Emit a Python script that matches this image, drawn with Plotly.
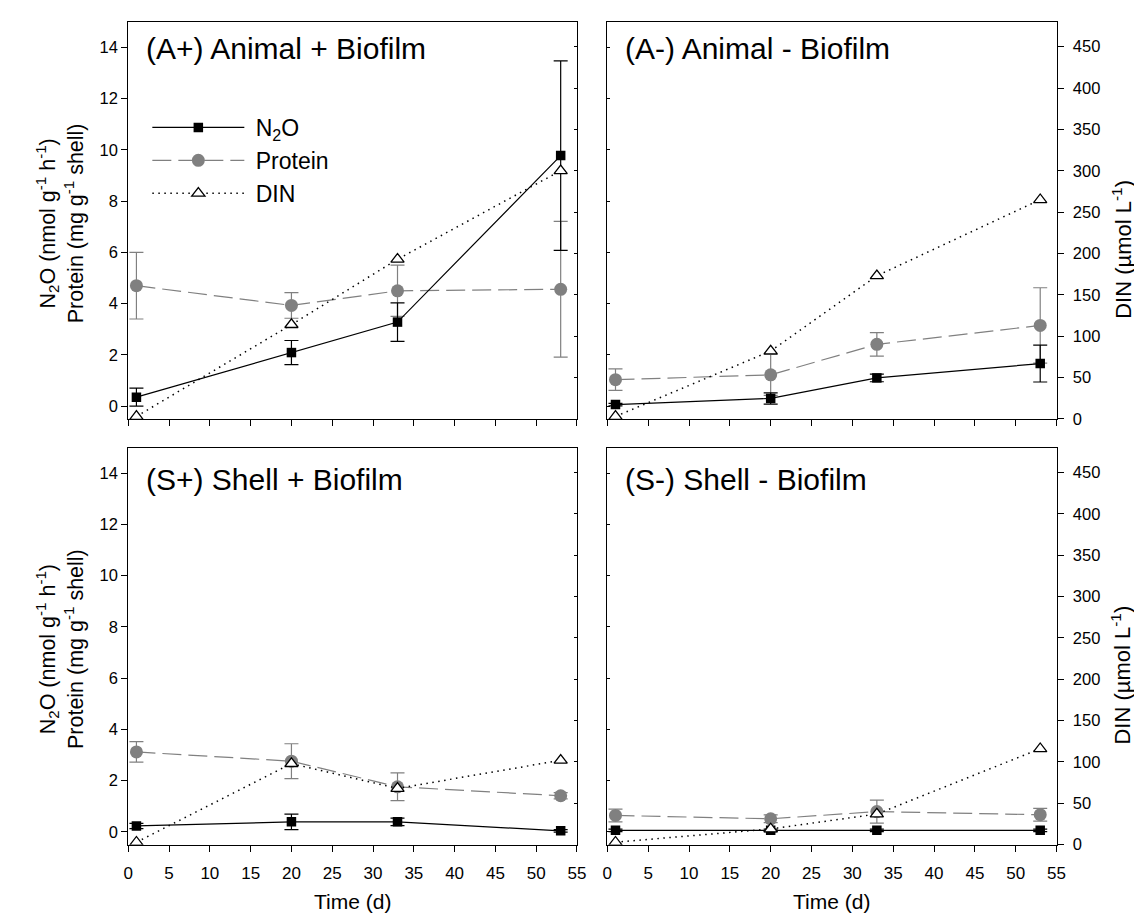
import plotly.graph_objects as go

# ---------------- data ----------------
days = [1, 20, 33, 53]

panel_titles = ["(A+) Animal + Biofilm", "(A-) Animal - Biofilm",
                "(S+) Shell + Biofilm", "(S-) Shell - Biofilm"]

n2o_ap = [0.35, 2.09, 3.28, 9.78]
n2o_ap_err = [0.35, 0.47, 0.75, 3.7]
prot_ap = [4.70, 3.93, 4.50, 4.56]
prot_ap_err = [1.3, 0.5, 1.0, 2.65]
din_ap = [3, 114, 193, 300]

n2o_am = [0.06, 0.30, 1.10, 1.66]
n2o_am_err = [0.05, 0.22, 0.15, 0.72]
prot_am = [1.03, 1.22, 2.41, 3.15]
prot_am_err = [0.42, 0.8, 0.46, 1.47]
din_am = [3, 82, 173, 265]

n2o_sp = [0.23, 0.39, 0.39, 0.04]
n2o_sp_err = [0.1, 0.3, 0.15, 0.05]
prot_sp = [3.12, 2.76, 1.76, 1.41]
prot_sp_err = [0.4, 0.68, 0.54, 0.12]
din_sp = [3, 98, 68, 102]

n2o_sm = [0.06, 0.06, 0.06, 0.06]
n2o_sm_err = [0.05, 0.05, 0.05, 0.05]
prot_sm = [0.64, 0.51, 0.79, 0.67]
prot_sm_err = [0.25, 0.15, 0.45, 0.25]
din_sm = [3, 19, 37, 116]

x_ticks = list(range(0, 56, 5))
left_ticks = list(range(0, 15, 2))
din_ticks = list(range(0, 451, 50))

# ---------------- layout geometry ----------------
W, H = 1142, 913
FONT = "Arial, Liberation Sans, sans-serif"
GRAY = "rgb(128,128,128)"

xL = [116.7 / W, 571.0 / W]
xR = [601.7 / W, 1056.5 / W]
yT = [1 - 415.0 / H, 1 - 14.0 / H]
yB = [1 - 845.0 / H, 1 - 444.0 / H]

panels = [
    dict(n2o=n2o_ap, n2oe=n2o_ap_err, prot=prot_ap, prote=prot_ap_err, din=din_ap, xd=xL, yd=yT, left=True, bottom=False, top_px=14),
    dict(n2o=n2o_am, n2oe=n2o_am_err, prot=prot_am, prote=prot_am_err, din=din_am, xd=xR, yd=yT, left=False, bottom=False, top_px=14),
    dict(n2o=n2o_sp, n2oe=n2o_sp_err, prot=prot_sp, prote=prot_sp_err, din=din_sp, xd=xL, yd=yB, left=True, bottom=True, top_px=444),
    dict(n2o=n2o_sm, n2oe=n2o_sm_err, prot=prot_sm, prote=prot_sm_err, din=din_sm, xd=xR, yd=yB, left=False, bottom=True, top_px=444),
]

fig = go.Figure()
layout = {}
annotations = []

for i, p in enumerate(panels):
    k = i + 1
    xa = "x" if k == 1 else f"x{k}"
    ya_p = 2 * k - 1
    ya_s = 2 * k
    ya = "y" if ya_p == 1 else f"y{ya_p}"
    ya2 = f"y{ya_s}"
    first = (k == 1)

    fig.add_trace(go.Scatter(
        x=days, y=p["prot"], xaxis=xa, yaxis=ya, name="\u00a0Protein",
        mode="lines+markers", showlegend=first, legendrank=2,
        line=dict(color=GRAY, width=1.2, dash="19px,7px"),
        marker=dict(symbol="circle", size=13, color=GRAY),
        error_y=dict(type="data", array=p["prote"], color=GRAY, thickness=1.2, width=7),
    ))
    fig.add_trace(go.Scatter(
        x=days, y=p["n2o"], xaxis=xa, yaxis=ya, name="\u00a0N<sub>2</sub>O",
        mode="lines+markers", showlegend=first, legendrank=1,
        line=dict(color="black", width=1.2),
        marker=dict(symbol="square", size=9.5, color="black"),
        error_y=dict(type="data", array=p["n2oe"], color="black", thickness=1.2, width=7),
    ))
    fig.add_trace(go.Scatter(
        x=days, y=p["din"], xaxis=xa, yaxis=ya2, name="\u00a0DIN",
        mode="lines+markers", showlegend=first, legendrank=3,
        line=dict(color="black", width=1.5, dash="1.5px,4.5px"),
        marker=dict(symbol="triangle-up", size=11.5, color="white",
                    line=dict(color="black", width=1.3)),
    ))

    axkey = "xaxis" if k == 1 else f"xaxis{k}"
    layout[axkey] = dict(
        domain=p["xd"], anchor=ya, range=[0, 55], tickvals=x_ticks,
        ticks="outside", ticklen=6, tickwidth=1, tickcolor="black",
        showticklabels=p["bottom"], showline=True, linecolor="black",
        linewidth=1, mirror=True, showgrid=False, zeroline=False,
        ticklabelstandoff=7,
        tickfont=dict(family=FONT, size=17, color="black"),
    )
    ykey = "yaxis" if ya_p == 1 else f"yaxis{ya_p}"
    layout[ykey] = dict(
        domain=p["yd"], anchor=xa, range=[-0.5, 15], tickvals=left_ticks,
        ticks="outside" if p["left"] else "inside",
        ticklen=6 if p["left"] else 3, tickwidth=1, tickcolor="black",
        showticklabels=p["left"], showline=True, linecolor="black",
        linewidth=1, showgrid=False, zeroline=False,
        tickfont=dict(family=FONT, size=16.5, color="black"),
    )
    layout[f"yaxis{ya_s}"] = dict(
        overlaying=ya, anchor=xa, side="right", range=[0, 480],
        tickvals=din_ticks,
        ticks="inside" if p["left"] else "outside",
        ticklen=3 if p["left"] else 6, tickwidth=1, tickcolor="black",
        showticklabels=not p["left"], showline=True, linecolor="black",
        linewidth=1, showgrid=False, zeroline=False,
        ticklabelstandoff=6,
        tickfont=dict(family=FONT, size=16.5, color="black"),
    )

    # panel title
    title_off = 27 if not p["bottom"] else 32
    annotations.append(dict(
        text=panel_titles[i], xref="paper", yref="paper",
        x=p["xd"][0] + 16 / W, y=1 - (p["top_px"] + title_off) / H,
        xanchor="left", yanchor="middle", showarrow=False,
        font=dict(family=FONT, size=30, color="black"),
    ))

    if p["left"]:
        annotations.append(dict(
            text="N<sub>2</sub>O (nmol g<sup>-1</sup> h<sup>-1</sup>)<br>Protein (mg g<sup>-1</sup> shell)",
            xref="paper", yref="paper", x=47 / W, y=1 - (p["top_px"] + 203) / H,
            xanchor="center", yanchor="middle", textangle=-90, showarrow=False,
            align="center", font=dict(family=FONT, size=21.5, color="black"),
        ))
    else:
        annotations.append(dict(
            text="DIN (µmol L<sup>-1</sup>)",
            xref="paper", yref="paper", x=1122 / W, y=1 - (p["top_px"] + 230) / H,
            xanchor="center", yanchor="middle", textangle=-90, showarrow=False,
            font=dict(family=FONT, size=22, color="black"),
        ))
    if p["bottom"]:
        annotations.append(dict(
            text="Time (d)", xref="paper", yref="paper",
            x=(p["xd"][0] + p["xd"][1]) / 2, y=1 - 902 / H,
            xanchor="center", yanchor="middle", showarrow=False,
            font=dict(family=FONT, size=21, color="black"),
        ))

fig.update_layout(
    width=W, height=H, margin=dict(l=0, r=0, t=0, b=0),
    paper_bgcolor="white", plot_bgcolor="white",
    showlegend=True,
    legend=dict(
        x=136 / W, y=1 - 99 / H, xanchor="left", yanchor="top",
        bgcolor="rgba(0,0,0,0)", borderwidth=0, itemwidth=92,
        font=dict(family=FONT, size=23, color="black"),
        tracegroupgap=0,
    ),
    annotations=annotations,
    **layout,
)

fig.write_html("out.html")
